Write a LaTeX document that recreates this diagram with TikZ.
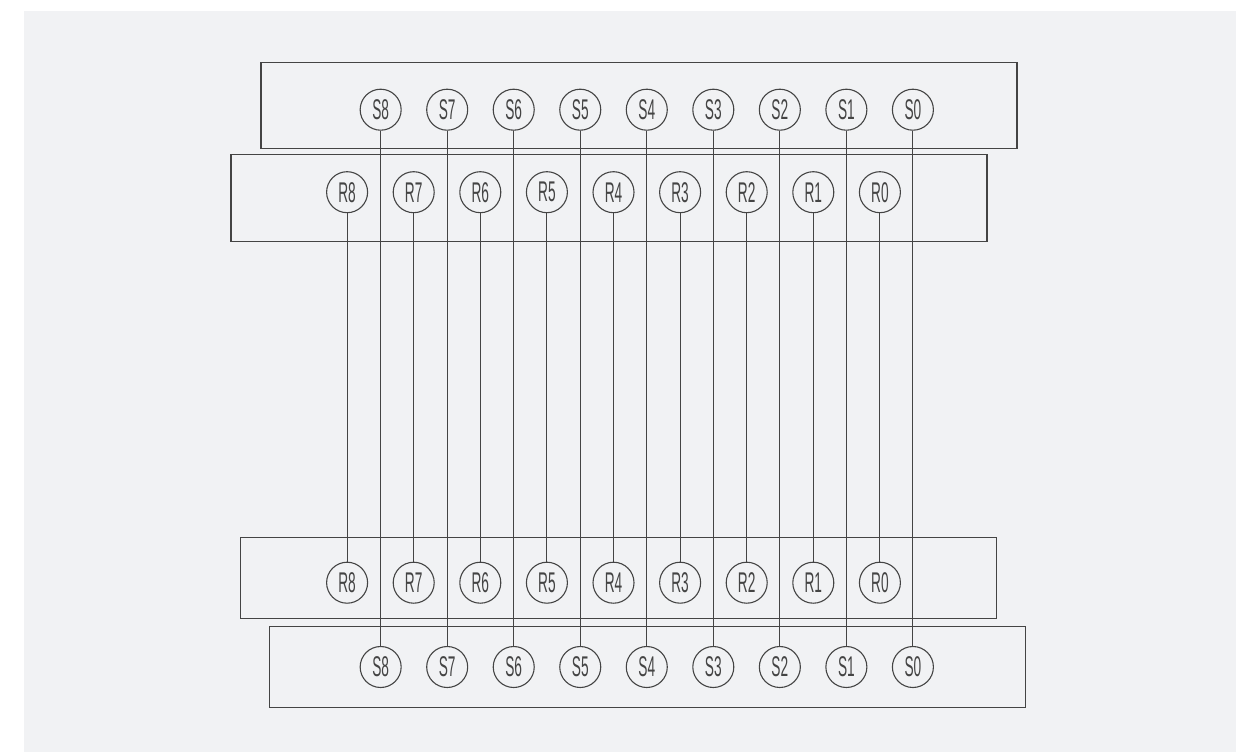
\documentclass[tikz,border=0pt]{standalone}
\usepackage{fontspec}
\setmainfont{Liberation Sans}
\definecolor{bgc}{HTML}{F1F2F4}
\definecolor{ink}{HTML}{444444}
\newcommand{\lab}[1]{\scalebox{0.48}[1]{\fontsize{28.5}{28.5}\selectfont #1}}
\tikzset{
  panel/.style={draw=ink, line width=1.2pt, inner sep=0pt},
  pinc/.style={circle, draw=ink, line width=1.1pt, minimum size=41pt, inner sep=0pt, text=ink, font=\fontsize{28.5}{28.5}\selectfont},
  wire/.style={draw=ink, line width=1.1pt}
}
\begin{document}
\begin{tikzpicture}[x=1pt,y=-1pt]
\useasboundingbox (0,0) rectangle (1236,752);
\fill[bgc] (23.5,11) rectangle (1236,752);
\node[panel, minimum width=756pt, minimum height=86pt] (stop) at (639,105.5) {};
\node[panel, minimum width=756pt, minimum height=87pt] (rtop) at (609,198) {};
\node[panel, minimum width=756pt, minimum height=81pt] (rbot) at (618.2,578) {};
\node[panel, minimum width=756pt, minimum height=81pt] (sbot) at (647.2,667.2) {};
\foreach \i in {0,...,8}{
  \pgfmathsetmacro{\xs}{912.9-66.53*\i}
  \pgfmathsetmacro{\xr}{879.9-66.6*\i}
  \node[pinc] (st\i) at (\xs,109.7) {\lab{S\i}};
  \node[pinc] (rt\i) at (\xr,192.2) {\lab{R\i}};
  \node[pinc] (rb\i) at (\xr,582.7) {\lab{R\i}};
  \node[pinc] (sb\i) at (\xs,667) {\lab{S\i}};
  \draw[wire] (st\i) -- (sb\i);
  \draw[wire] (rt\i) -- (rb\i);
}
\end{tikzpicture}
\end{document}
